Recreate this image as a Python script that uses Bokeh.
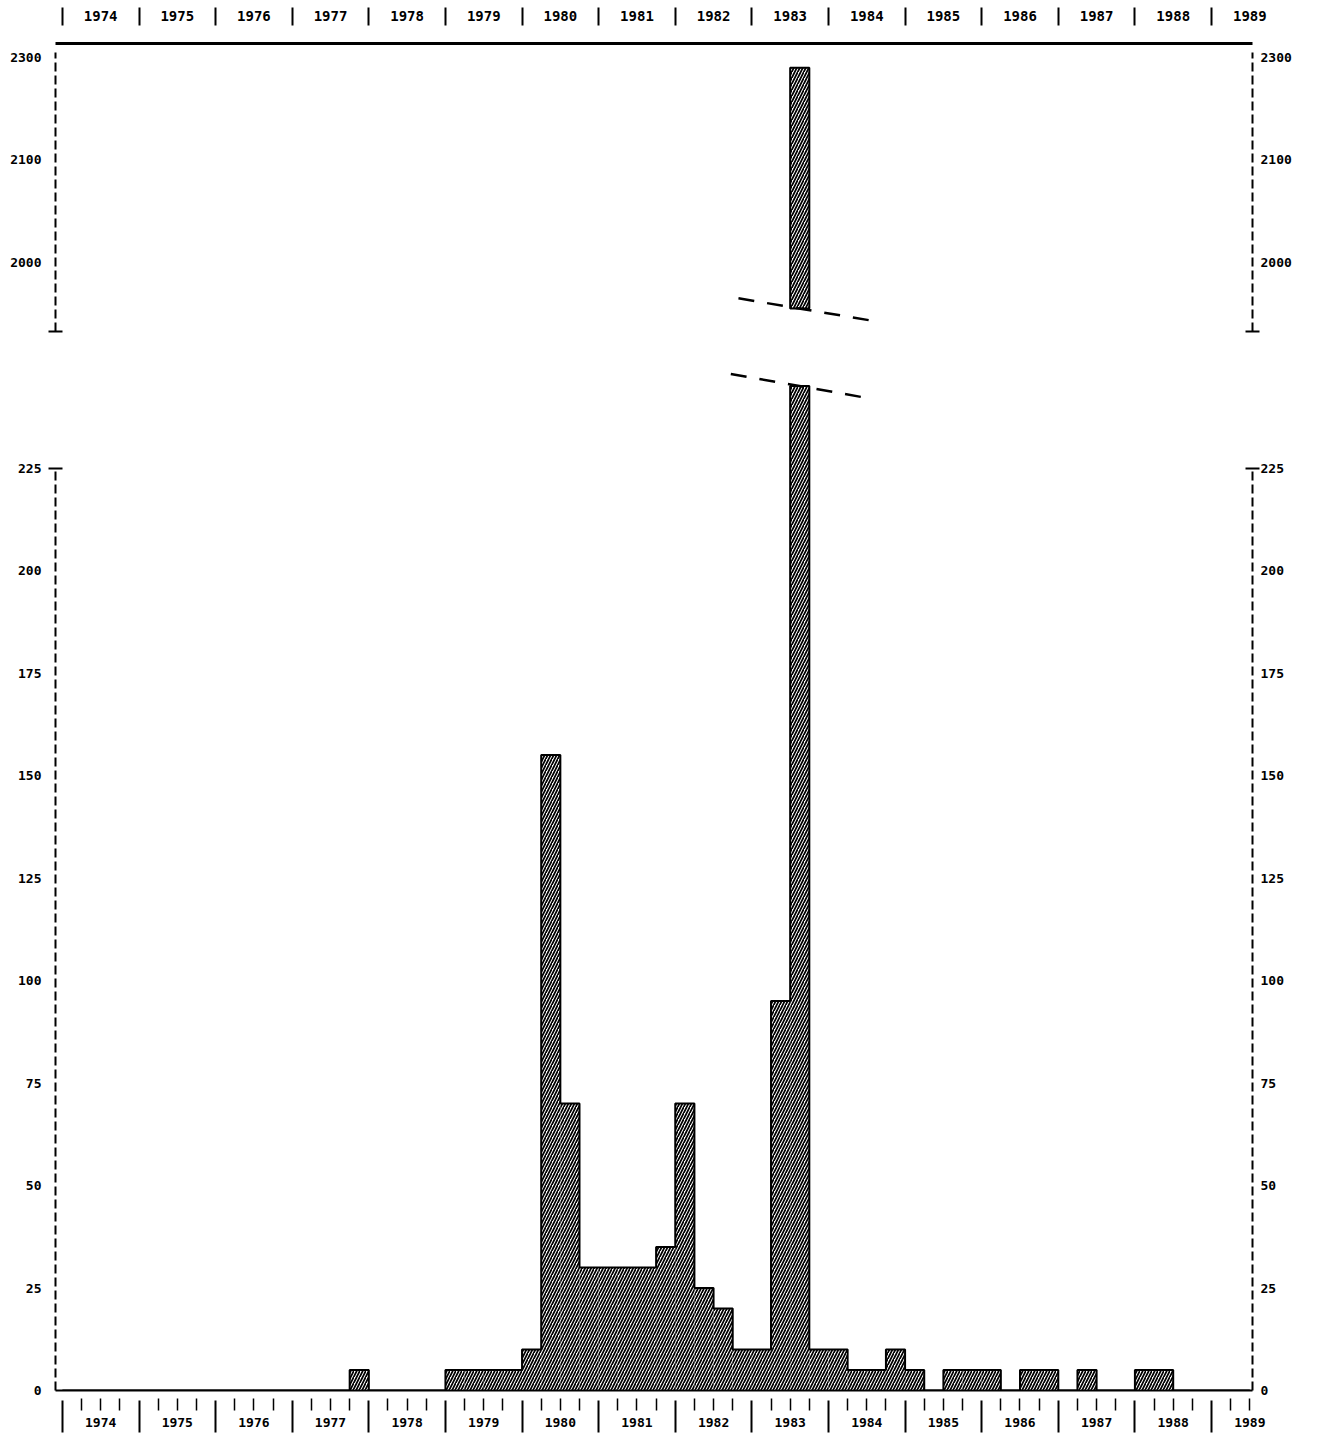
from bokeh.plotting import figure
from bokeh.models import Range1d, LinearAxis, FixedTicker
from bokeh.layouts import column
from bokeh.embed import file_html
from bokeh.resources import INLINE

# ---------------- data ----------------
years = list(range(1974, 1990))
first_quarter = 1974.0
quarter_values = [
    0, 0, 0, 0,          # 1974
    0, 0, 0, 0,          # 1975
    0, 0, 0, 0,          # 1976
    0, 0, 0, 5,          # 1977
    0, 0, 0, 0,          # 1978
    5, 5, 5, 5,          # 1979
    10, 155, 70, 30,     # 1980
    30, 30, 30, 35,      # 1981
    70, 25, 20, 10,      # 1982
    10, 95, 2190, 10,    # 1983
    10, 5, 5, 10,        # 1984
    5, 0, 5, 5,          # 1985
    5, 0, 5, 5,          # 1986
    0, 5, 0, 0,          # 1987
    5, 5, 0, 0,          # 1988
    0, 0,                # 1989
]
lower_ticks = [0, 25, 50, 75, 100, 125, 150, 175, 200, 225]
upper_ticks = [2000, 2100, 2200]
upper_tick_labels = ["2000", "2100", "2300"]
lower_cut = 245          # where the tall bar is broken in the lower panel
upper_break = 1955       # where the tall bar resumes in the upper panel

# ---------------- derived ----------------
qw = 0.25
starts = [first_quarter + i * qw for i in range(len(quarter_values))]
clipped = [min(v, lower_cut) for v in quarter_values]

FONT = "DejaVu Sans Mono"
X_RANGE = (1973.91, 1989.535)
W = 1310
ML, MR = 55, 58

def style_text(ax, size="13px"):
    ax.major_label_text_font = FONT
    ax.major_label_text_font_size = size
    ax.major_label_text_font_style = "bold"
    ax.major_label_text_color = "black"

def y_axis(ticks, labels, minor, bounds, side):
    ax = LinearAxis(ticker=FixedTicker(ticks=ticks, minor_ticks=minor))
    ax.major_label_overrides = dict(zip(ticks, labels))
    ax.bounds = bounds
    ax.axis_line_dash = "9 4"
    ax.axis_line_width = 2
    ax.axis_line_color = "black"
    ax.major_tick_in = 0
    ax.major_tick_out = 0
    ax.minor_tick_in = 7
    ax.minor_tick_out = 7
    ax.minor_tick_line_width = 2
    ax.minor_tick_line_color = "black"
    ax.major_label_standoff = 7 if side == "left" else 1
    style_text(ax)
    return ax

def base_fig(height, yr, mt, mb):
    p = figure(width=W, height=height, output_backend="svg", toolbar_location=None,
               x_range=Range1d(*X_RANGE), y_range=yr,
               x_axis_location=None, y_axis_location=None,
               min_border_left=ML, min_border_right=MR,
               min_border_top=mt, min_border_bottom=mb)
    p.outline_line_color = None
    p.xgrid.visible = False
    p.ygrid.visible = False
    p.background_fill_color = "white"
    p.border_fill_color = "white"
    return p

hatch = dict(fill_color=None, hatch_pattern="/", hatch_color="black",
             hatch_scale=6, hatch_weight=1.7)

# ---------------- upper panel ----------------
top = base_fig(345, Range1d(1919, 2213.6), 43, 0)
peak_i = max(range(len(quarter_values)), key=lambda i: quarter_values[i])
pk_left, pk_val = starts[peak_i], quarter_values[peak_i]
top.quad(left=[pk_left], right=[pk_left + qw], bottom=[upper_break], top=[pk_val],
         line_color="black", line_width=2, **hatch)
xc = pk_left + qw / 2
ux = [xc - 0.8, xc + 1.05]
top.line(x=ux, y=[upper_break - 12.5 * (x - xc) for x in ux],
         line_color="black", line_width=2.5, line_dash="16 13")

for side in ("left", "right"):
    top.add_layout(y_axis(upper_ticks, upper_tick_labels, [1933], (1933, 2205), side), side)

tax = LinearAxis(ticker=FixedTicker(ticks=[y + 0.5 for y in years], minor_ticks=years))
tax.major_label_overrides = {y + 0.5: str(y) for y in years}
tax.axis_line_width = 3
tax.axis_line_color = "black"
tax.major_tick_in = 0
tax.major_tick_out = 0
tax.minor_tick_in = -18
tax.minor_tick_out = 36
tax.minor_tick_line_width = 2
tax.minor_tick_line_color = "black"
tax.major_label_standoff = -13
style_text(tax, "14px")
top.add_layout(tax, "above")

# ---------------- lower panel ----------------
bot = base_fig(1090, Range1d(0, 254.9), 0, 45)
bars = [(s, c) for s, c in zip(starts, clipped) if c > 0]
bot.quad(left=[b[0] for b in bars], right=[b[0] + qw for b in bars],
         bottom=0, top=[b[1] for b in bars], line_color=None, **hatch)
bot.step(x=starts + [starts[-1] + qw], y=clipped + [clipped[-1]], mode="after",
         line_color="black", line_width=2)
lx = [xc - 0.9, xc + 0.82]
bot.line(x=lx, y=[lower_cut - 3.3 * (x - xc) for x in lx],
         line_color="black", line_width=2.5, line_dash="16 13")

for side in ("left", "right"):
    bot.add_layout(y_axis(lower_ticks, [str(t) for t in lower_ticks], [225], (0, 225), side), side)

q_ticks = [y + q for y in years for q in (0.25, 0.5, 0.75)]
bax = LinearAxis(ticker=FixedTicker(ticks=q_ticks, minor_ticks=years))
bax.major_label_overrides = {t: (str(int(t)) if abs(t - int(t) - 0.5) < 1e-9 else "") for t in q_ticks}
bax.axis_line_width = 2
bax.axis_line_color = "black"
bax.major_tick_in = -8
bax.major_tick_out = 20
bax.major_tick_line_width = 1.5
bax.major_tick_line_color = "black"
bax.minor_tick_in = -10
bax.minor_tick_out = 42
bax.minor_tick_line_width = 2
bax.minor_tick_line_color = "black"
bax.major_label_standoff = -15
style_text(bax)
bot.add_layout(bax, "below")

layout = column(top, bot, spacing=0)
open("out.html", "w").write(file_html(layout, INLINE))
